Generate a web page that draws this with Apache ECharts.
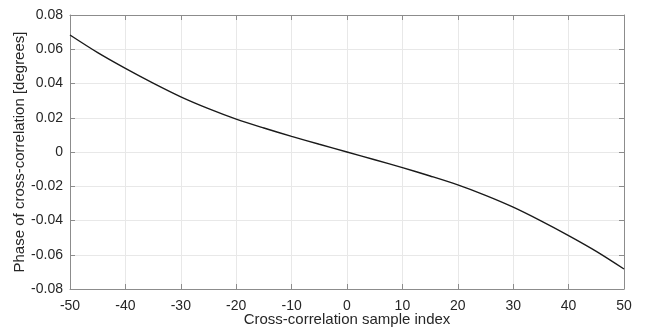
<!DOCTYPE html>
<html><head><meta charset="utf-8">
<script src="https://cdn.jsdelivr.net/npm/echarts@6/dist/echarts.min.js"></script>
<style>html,body{margin:0;padding:0;background:#fff}#c{width:648px;height:328px}</style>
</head><body><div id="c"></div>
<script>
const xValues = [-50,-45,-40,-35,-30,-25,-20,-15,-10,-5,0,5,10,15,20,25,30,35,40,45,50];
const phaseValues = [0.0683,0.0580,0.0488,0.0402,0.0322,0.0253,0.0192,0.0140,0.0091,0.0045,0,-0.0045,-0.0091,-0.0140,-0.0192,-0.0253,-0.0322,-0.0402,-0.0488,-0.0580,-0.0683];
const xTitle = 'Cross-correlation sample index';
const yTitle = 'Phase of cross-correlation [degrees]';

const chart = echarts.init(document.getElementById('c'), null, {renderer:'canvas'});
const font = 'Liberation Sans, Arial, sans-serif';
const axisCol = '#8c8c8c';
const txt = '#262626';
const grid = '#e8e8e8';
chart.setOption({
  animation:false,
  backgroundColor:'#fff',
  grid:{left:70,right:24,top:15,bottom:39,containLabel:false,outerBoundsMode:'none'},
  xAxis:[{
    type:'value',min:-50,max:50,interval:10,position:'bottom',
    name:xTitle,nameLocation:'middle',nameGap:23,nameMoveOverlap:false,
    nameTextStyle:{color:txt,fontSize:15,fontFamily:font},
    axisLine:{show:true,onZero:false,lineStyle:{color:axisCol,width:1}},
    axisTick:{show:true,inside:true,length:5,lineStyle:{color:axisCol}},
    axisLabel:{color:txt,fontSize:14,fontFamily:font,margin:10},
    splitLine:{show:true,lineStyle:{color:grid,width:1}}
  },{
    type:'value',min:-50,max:50,interval:10,position:'top',
    axisLine:{show:true,onZero:false,lineStyle:{color:axisCol,width:1}},
    axisTick:{show:true,inside:true,length:5,lineStyle:{color:axisCol}},
    axisLabel:{show:false},splitLine:{show:false}
  }],
  yAxis:[{
    type:'value',min:-0.08,max:0.08,interval:0.02,position:'left',
    name:yTitle,nameLocation:'middle',nameGap:43,nameMoveOverlap:false,
    nameTextStyle:{color:txt,fontSize:15,fontFamily:font},
    axisLine:{show:true,onZero:false,lineStyle:{color:axisCol,width:1}},
    axisTick:{show:true,inside:true,length:5,lineStyle:{color:axisCol}},
    axisLabel:{color:txt,fontSize:14,fontFamily:font,margin:7,
      formatter:v=>{const r=Math.round(v*100)/100; return r===0?'0':r.toFixed(2);}},
    splitLine:{show:true,lineStyle:{color:grid,width:1}}
  },{
    type:'value',min:-0.08,max:0.08,interval:0.02,position:'right',
    axisLine:{show:true,onZero:false,lineStyle:{color:axisCol,width:1}},
    axisTick:{show:true,inside:true,length:5,lineStyle:{color:axisCol}},
    axisLabel:{show:false},splitLine:{show:false}
  }],
  series:[{
    type:'line',xAxisIndex:0,yAxisIndex:0,smooth:0.3,showSymbol:false,
    data:xValues.map((x,i)=>[x,phaseValues[i]]),
    lineStyle:{color:'#1a1a1a',width:1.4}
  }]
});
</script></body></html>
